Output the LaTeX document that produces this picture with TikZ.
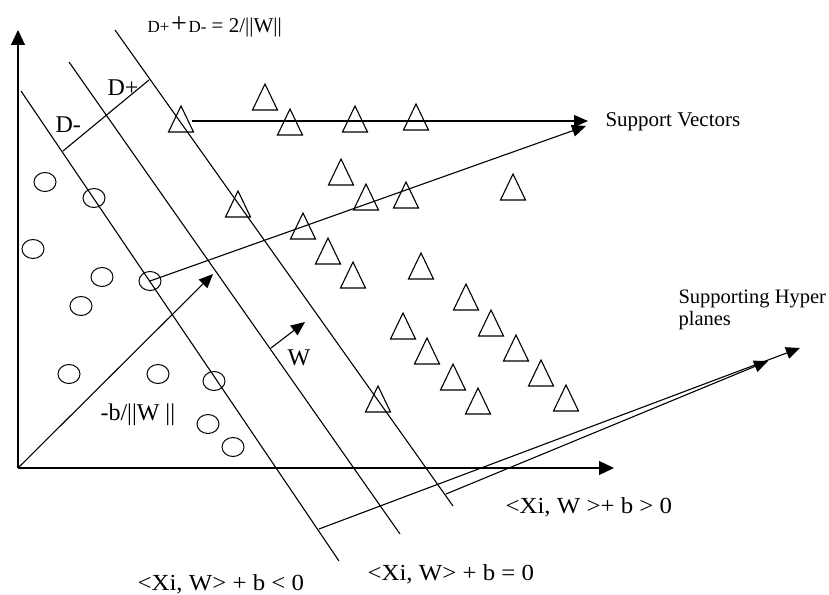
\documentclass[tikz,border=0pt]{standalone}
\usepackage{fontspec}
\setmainfont{Liberation Serif}
\usetikzlibrary{arrows.meta,shapes.geometric}
\begin{document}
\begin{tikzpicture}[x=1pt,y=-1pt,line width=1.1pt,
  arr/.style={-{Triangle[length=14pt,width=12pt]}},
  axisarr/.style={-{Triangle[length=15pt,width=14pt]}},
  circ/.style={draw,ellipse,minimum width=22pt,minimum height=19pt,inner sep=0pt,line width=1pt},
  trip/.style={line width=1.1pt},
  lbl/.style={anchor=base west,inner sep=0pt,text=black},
  big/.style={font=\fontsize{23}{23}\selectfont},
  mid/.style={font=\fontsize{21}{21}\selectfont},
  dlbl/.style={font=\fontsize{24}{24}\selectfont}]
\useasboundingbox (0,0) rectangle (829,594);
% axes
\coordinate (O) at (18,468);
\coordinate (ytop) at (18,30);
\coordinate (xend) at (614,468);
\draw[axisarr] (O) -- (ytop);
\draw[axisarr] (O) -- (xend);
% hyperplanes
\coordinate (A1) at (21,91);   \coordinate (A2) at (339,561);
\coordinate (B1) at (69,62);   \coordinate (B2) at (400,534);
\coordinate (C1) at (115,30);  \coordinate (C2) at (453,506);
\draw (A1) -- (A2);
\draw (B1) -- (B2);
\draw (C1) -- (C2);
% margin segment
\coordinate (P1) at (63,151);
\coordinate (P3) at (149,80);
\draw (P1) -- (P3);
% circles
\foreach \n/\x/\y in {c1/45/182,c2/94/198,c3/33/249,c4/102/277,c5/150/281,c6/81/306,
  c7/69/374,c8/158/374,c9/214/381,c10/208/424,c11/233/447}
  \node[circ] (\n) at (\x,\y) {};
% triangles
\foreach \n/\x/\y in {t1/181/119,t2/265/97,t3/290/122,t4/355/119,t5/416/117,t6/341/172,
  t7/366/197,t8/406/195,t9/513/187,t10/238/204,t11/303/226,t12/328/251,t13/353/275,
  t14/421/266,t15/466/297,t16/491/323,t17/403/326,t18/427/351,t19/516/348,t20/453/377,
  t21/541/373,t22/478/401,t23/566/398,t24/378/399}
  {\coordinate (\n) at (\x,\y);
   \draw[trip,line join=miter] (\x,\y-13) -- (\x+12.5,\y+13) -- (\x-12.5,\y+13) -- cycle;}
% support vector arrows
\coordinate (t1e) at (192,121);
\coordinate (sv1) at (588,121);
\coordinate (sv2) at (586,126);
\draw[arr] (t1e) -- (sv1);
\draw[arr] (c5.center) -- (sv2);
% offset arrow
\coordinate (bw) at (213,274);
\draw[arr] (O) -- (bw);
% W arrow
\coordinate (w0) at (271,348);
\coordinate (w1) at (305,322);
\draw[arr] (w0) -- (w1);
% supporting hyperplane arrows
\coordinate (H1) at (319,529); \coordinate (H1e) at (800,348);
\coordinate (H2) at (446,494); \coordinate (H2e) at (768,361);
\draw[arr] (H1) -- (H1e);
\draw[arr] (H2) -- (H2e);
% labels
\node[lbl] (title) at (147,33) {{\fontsize{17}{17}\selectfont D+}\,{\fontsize{28}{28}\selectfont +}\,{\fontsize{17}{17}\selectfont D-}{\fontsize{21}{21}\selectfont{} = 2/||W||}};
\node[lbl,dlbl] (dm) at (55,132) {D-};
\node[lbl,dlbl] (dp) at (107,95) {D+};
\node[lbl,dlbl] (wl) at (287,365) {W};
\node[lbl,dlbl] (bl) at (100,420) {-b/||W ||};
\node[lbl,mid] (svl) at (605,126) {Support Vectors};
\node[lbl,font=\fontsize{20.5}{20.5}\selectfont] (sh1) at (678,303) {Supporting Hyper};
\node[lbl,font=\fontsize{20.5}{20.5}\selectfont] (sh2) at (678,325) {planes};
\node[lbl,big,xscale=1.08] (gt) at (505,513) {<Xi, W >+ b > 0};
\node[lbl,big,xscale=1.08] (eq) at (367,580) {<Xi, W> + b = 0};
\node[lbl,big,xscale=1.08] (lt) at (137,590) {<Xi, W> + b < 0};
\end{tikzpicture}
\end{document}
